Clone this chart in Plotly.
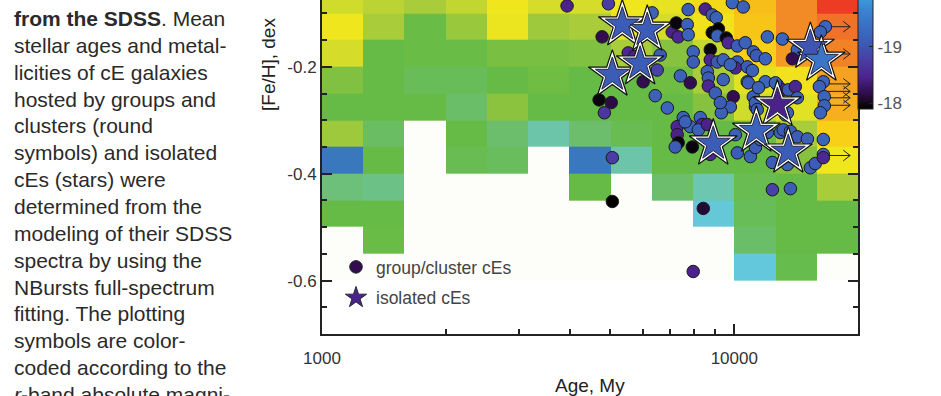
import plotly.graph_objects as go

# ---------------- data ----------------
# heat-map bins (age edges in My, [Fe/H] edges in dex)
AGE_EDGES = [1000, 1259, 1585, 1995, 2512, 3162, 3981, 5012, 6310, 7943, 10000, 12589, 15849, 19953]
FEH_EDGES = [-0.6, -0.55, -0.5, -0.45, -0.4, -0.35, -0.3, -0.25, -0.2, -0.15, -0.1, -0.05]
N = None
# cell levels, listed from the top row (-0.05..-0.1) down to the bottom row (-0.55..-0.6)
GRID_TOP_DOWN = [
    [0.70, 0.66, 0.62, 0.67, 0.77, 0.71, 0.71, 0.77, 0.75, 0.80, 0.85, 0.92, 1.00],
    [0.77, 0.62, 0.46, 0.59, 0.76, 0.60, 0.62, 0.76, 0.71, 0.78, 0.84, 0.92, 0.95],
    [0.71, 0.45, 0.46, 0.46, 0.51, 0.51, 0.53, 0.62, 0.55, 0.68, 0.82, 0.90, 0.93],
    [0.53, 0.45, 0.40, 0.40, 0.45, 0.48, 0.45, 0.45, 0.48, 0.62, 0.74, 0.78, 0.89],
    [0.45, 0.45, 0.45, 0.36, 0.56, 0.45, 0.45, 0.45, 0.45, 0.55, 0.70, 0.74, 0.87],
    [0.60, 0.37, N, 0.45, 0.35, 0.26, 0.35, 0.42, 0.45, 0.45, 0.46, 0.62, 0.82],
    [0.00, 0.45, N, 0.42, 0.39, N, 0.00, 0.26, 0.45, 0.45, 0.45, 0.55, 0.77],
    [0.33, 0.31, N, N, N, N, 0.45, N, 0.35, 0.25, 0.42, 0.45, 0.62],
    [0.45, 0.45, N, N, N, N, N, N, N, 0.16, 0.40, 0.45, 0.45],
    [N, 0.46, N, N, N, N, N, N, N, N, 0.36, 0.45, 0.45],
    [N, N, N, N, N, N, N, N, N, N, 0.15, 0.43, N],
]

# group / cluster cEs: age (My), [Fe/H] (dex), r-band absolute magnitude
grp_age = [6010, 4950, 3020, 3930, 4780, 6320, 5530, 6610, 7070, 7310, 7230, 7690, 7730, 7730,
           8500, 8840, 9040, 9890, 10510, 8840, 9150, 9090, 9560, 9670, 10170, 10630, 11120,
           11310, 11890, 12030, 13080, 14220, 13830, 16630, 16170, 7950, 7950, 8745, 8745,
           9090, 9400, 10170, 10060, 10750, 11060, 6500, 4700, 5030, 4840, 6430, 6880, 7400,
           7820, 8600, 8650, 8650, 8990, 9400, 9940, 9780, 9300, 10750, 11120, 11250, 11890,
           12720, 13080, 13520, 14060, 14220, 13300, 16440, 16080, 16530, 16530, 16170, 7520,
           7270, 7820, 8270, 7270, 7310, 7910, 7190, 8360, 8180, 8745, 10060, 10170, 10940,
           11250, 11560, 12030, 12930, 13150, 13680, 14220, 15040, 12370, 13450, 15290, 15720,
           16440, 16440, 16440, 5060, 12370, 13680, 5060, 8410, 7950, 9780, 10810, 11440,
           9250, 11250, 11370, 13450, 12580, 7600, 8600, 5730, 16350]
grp_feh = [-0.228, -0.082, -0.073, -0.086, -0.144, -0.099, -0.174, -0.178, -0.135, -0.144,
           -0.118, -0.121, -0.140, -0.093, -0.092, -0.103, -0.108, -0.080, -0.088, -0.136,
           -0.129, -0.142, -0.146, -0.155, -0.161, -0.155, -0.172, -0.179, -0.185, -0.144,
           -0.148, -0.168, -0.185, -0.125, -0.135, -0.172, -0.191, -0.168, -0.187, -0.191,
           -0.187, -0.191, -0.202, -0.200, -0.207, -0.206, -0.262, -0.267, -0.286, -0.254,
           -0.277, -0.217, -0.230, -0.209, -0.221, -0.236, -0.249, -0.224, -0.256, -0.275,
           -0.286, -0.228, -0.256, -0.275, -0.228, -0.234, -0.243, -0.243, -0.237, -0.258,
           -0.290, -0.228, -0.237, -0.256, -0.273, -0.286, -0.295, -0.312, -0.312, -0.295,
           -0.327, -0.342, -0.350, -0.350, -0.308, -0.318, -0.364, -0.327, -0.361, -0.368,
           -0.351, -0.336, -0.323, -0.323, -0.318, -0.321, -0.331, -0.335, -0.379, -0.383,
           -0.389, -0.381, -0.336, -0.364, -0.370, -0.370, -0.430, -0.428, -0.452, -0.465,
           -0.583, -0.196, -0.230, -0.239, -0.267, -0.267, -0.280, -0.286, -0.230, -0.303,
           -0.308, -0.181, -0.176]
grp_mag = [-18.2, -18.75, -19.05, -18.45, -18.2, -19.15, -18.5, -19.1, -18.45, -18.5,
           -17.95, -19.15, -19.2, -19.1, -18.45, -19.05, -19.15, -19.2, -19.15, -17.95,
           -17.9, -19.15, -17.95, -18.5, -19.1, -19.15, -19.1, -19.05, -19.2, -19.2,
           -19.2, -19.15, -18.2, -19.2, -19.15, -19.15, -19.1, -17.95, -18.5, -19.05,
           -19.15, -19.1, -18.5, -19.1, -19.15, -18.8, -17.95, -18.15, -18.7, -19.15,
           -19.2, -19.15, -18.2, -19.15, -19.1, -18.5, -19.1, -19.15, -18.2, -19.1,
           -19.15, -19.15, -19.1, -19.15, -19.2, -19.2, -18.5, -19.1, -18.5, -19.1,
           -19.15, -19.2, -19.15, -19.2, -19.15, -19.2, -19.15, -18.5, -19.2, -19.15,
           -18.45, -17.95, -17.95, -19.1, -18.5, -19.15, -18.5, -19.15, -19.1, -19.15,
           -19.1, -19.15, -19.1, -19.15, -19.1, -19.15, -19.1, -19.15, -19.1, -19.15,
           -19.15, -19.1, -19.2, -19.15, -18.5, -18.75, -18.8, -19.1, -17.9, -18.1,
           -18.45, -19.15, -19.1, -19.15, -19.1, -19.15, -19.1, -19.15, -19.15, -19.15,
           -18.45, -18.45, -19.15]

# isolated cEs
iso_age = [12720, 5350, 6150, 5060, 5910, 11890, 15290, 16260, 11310, 8890, 13520]
iso_feh = [-0.271, -0.121, -0.131, -0.215, -0.194, -0.071, -0.163, -0.187, -0.320, -0.344, -0.359]
iso_mag = [-18.45, -19.1, -19.1, -19.1, -19.1, -19.15, -19.0, -19.45, -19.2, -19.1, -19.1]

# objects whose age is a lower limit (arrows)
lim_age = [16630, 16350, 16440, 16530, 16530, 16530, 16440]
lim_feh = [-0.125, -0.176, -0.232, -0.246, -0.258, -0.272, -0.366]
LIM_END = 19100

# tick labels
X_TICKS = [1000, 10000]
X_TICKTEXT = ["1000", "10000"]
X_MINOR = [2000, 3000, 4000, 5000, 6000, 7000, 8000, 9000, 20000]
Y_TICKS = [-0.6, -0.4, -0.2]
Y_TICKTEXT = ["-0.6", "-0.4", "-0.2"]
Y_MINOR = [-0.65, -0.55, -0.5, -0.45, -0.35, -0.3, -0.25, -0.15, -0.1]
CBAR_TICKS = [18, 19]
CBAR_TICKTEXT = ["-18", "-19"]

CAPTION = [
    "<b>from the SDSS</b>. Mean",
    "stellar ages and metal-",
    "licities of cE galaxies",
    "hosted by groups and",
    "clusters (round",
    "symbols) and isolated",
    "cEs (stars) were",
    "determined from the",
    "modeling of their SDSS",
    "spectra by using the",
    "NBursts full-spectrum",
    "fitting. The plotting",
    "symbols are color-",
    "coded according to the",
    "<i>r</i>-band absolute magni-",
]

# ---------------- styling ----------------
W, H = 941, 396
L, R, T, B = 322, 83, 0, 62
PW, PH = W - L - R, H - T - B
FONT = "Liberation Sans, Arial, sans-serif"
AX = "#222222"

HM_SCALE = [
    [0.00, "#3a78be"], [0.15, "#64c8dc"], [0.25, "#6cc6b0"], [0.35, "#6cbe6c"],
    [0.45, "#66bb46"], [0.55, "#86c240"], [0.62, "#a8cc3a"], [0.70, "#d0dc2c"],
    [0.77, "#f0e61e"], [0.83, "#f8cc16"], [0.90, "#f49a24"], [0.95, "#f07228"],
    [1.00, "#ec3c24"],
]
MAG_SCALE = [
    [0.00, "#000000"], [0.06, "#1a0a24"], [0.12, "#300c4c"], [0.25, "#4c2490"],
    [0.37, "#4a3ca4"], [0.50, "#3c5ab4"], [0.62, "#3a6cc2"], [0.78, "#3a88d2"],
    [0.90, "#3ea8e2"], [1.00, "#46c8f2"],
]
CMIN, CMAX = 17.9, 20.2


def px_x(p):
    return (p - L) / PW


def px_y(p):
    return (H - B - p) / PH


fig = go.Figure()

fig.add_trace(go.Heatmap(
    x=AGE_EDGES, y=FEH_EDGES, z=GRID_TOP_DOWN[::-1],
    colorscale=HM_SCALE, zmin=0, zmax=1, showscale=False, hoverinfo="skip",
))

# arrows for lower limits
ax_x, ax_y = [], []
for a, f in zip(lim_age, lim_feh):
    ax_x += [a, LIM_END, None, LIM_END * 0.962, LIM_END, LIM_END * 0.962, None]
    ax_y += [f, f, None, f + 0.010, f, f - 0.010, None]
fig.add_trace(go.Scatter(x=ax_x, y=ax_y, mode="lines", line=dict(color=AX, width=1),
                         showlegend=False, hoverinfo="skip"))

fig.add_trace(go.Scatter(
    x=grp_age, y=grp_feh, mode="markers", name="group/cluster cEs",
    legendgroup="a", legendrank=1,
    marker=dict(size=12.5, color=[-m for m in grp_mag], colorscale=MAG_SCALE, cmin=CMIN, cmax=CMAX,
                line=dict(color="#1a1a1a", width=1),
                showscale=True,
                colorbar=dict(
                    x=1.0, xanchor="left", xpad=0, y=px_y(109), yanchor="bottom", ypad=0,
                    lenmode="pixels", len=130, thickness=15,
                    outlinewidth=1, outlinecolor=AX,
                    tickvals=CBAR_TICKS, ticktext=CBAR_TICKTEXT, ticks="inside", ticklen=4,
                    tickcolor=AX, tickfont=dict(family=FONT, size=17, color="#555555"),
                )),
    cliponaxis=False,
))

fig.add_trace(go.Scatter(
    x=iso_age, y=iso_feh, mode="markers", showlegend=False, hoverinfo="skip",
    marker=dict(symbol="star", size=36, color="white", line=dict(color="#111111", width=1.2)),
    cliponaxis=False,
))
fig.add_trace(go.Scatter(
    x=iso_age, y=iso_feh, mode="markers", name="isolated cEs",
    legendgroup="b", legendrank=2,
    marker=dict(symbol="star", size=25.5, color=[-m for m in iso_mag], colorscale=MAG_SCALE,
                cmin=CMIN, cmax=CMAX, line=dict(color="#2a2a40", width=1)),
    cliponaxis=False,
))

# empty trace so the mirrored right axis exists
fig.add_trace(go.Scatter(x=[], y=[], yaxis="y2", showlegend=False, hoverinfo="skip"))

yax_common = dict(
    range=[-0.7, -0.075], showgrid=False, zeroline=False, showline=True,
    linecolor=AX, linewidth=2, ticks="inside", ticklen=10, tickwidth=1.5, tickcolor=AX,
    minor=dict(tickvals=Y_MINOR, ticks="inside", ticklen=5, tickwidth=1.5, tickcolor=AX),
)

fig.update_layout(
    width=W, height=H,
    margin=dict(l=L, r=R, t=T, b=B, pad=0, autoexpand=False),
    paper_bgcolor="white", plot_bgcolor="white",
    font=dict(family=FONT, color="#333333"),
    xaxis=dict(
        type="log", range=[3, 4.3], showgrid=False, zeroline=False, showline=True,
        linecolor=AX, linewidth=2,
        tickvals=X_TICKS, ticktext=X_TICKTEXT, ticks="inside", ticklen=10, tickwidth=1.5,
        tickcolor=AX, tickfont=dict(family=FONT, size=17, color="#333333"),
        ticklabelstandoff=8,
        minor=dict(tickvals=X_MINOR, ticks="inside", ticklen=5, tickwidth=1.5, tickcolor=AX),
    ),
    yaxis=dict(**yax_common, tickvals=Y_TICKS, ticktext=Y_TICKTEXT,
               tickfont=dict(family=FONT, size=17, color="#333333")),
    yaxis2=dict(**yax_common, overlaying="y", side="right", anchor="x",
                tickvals=Y_TICKS, showticklabels=False),
    legend=dict(x=px_x(336), y=px_y(249), xanchor="left", yanchor="top",
                bgcolor="rgba(0,0,0,0)", font=dict(family=FONT, size=17.5, color="#444444"),
                tracegroupgap=5, traceorder="grouped"),
    shapes=[dict(type="rect", xref="x", yref="y", x0=AGE_EDGES[0], x1=AGE_EDGES[-1],
                 y0=FEH_EDGES[0], y1=FEH_EDGES[-1], fillcolor="#fdfdfa", line=dict(width=0),
                 layer="below")],
)

ann = [
    dict(text="Age, My", xref="paper", yref="paper", x=0.5, y=px_y(385), xanchor="center",
         yanchor="middle", showarrow=False, font=dict(family=FONT, size=19, color="#222222")),
    dict(text="[Fe/H], dex", xref="paper", yref="paper", x=px_x(268), y=px_y(65), xanchor="center",
         yanchor="middle", textangle=-90, showarrow=False,
         font=dict(family=FONT, size=19, color="#222222")),
]
for i, line in enumerate(CAPTION):
    base = 25.5 + 26.85 * i
    ann.append(dict(text=line, xref="paper", yref="paper", x=px_x(12), y=px_y(base - 7),
                    xanchor="left", yanchor="middle", showarrow=False,
                    font=dict(family=FONT, size=21, color="#2a2a2a")))
fig.update_layout(annotations=ann)

fig.write_html("out.html", config={"displayModeBar": False},
               post_script="document.body.style.margin='0';")
